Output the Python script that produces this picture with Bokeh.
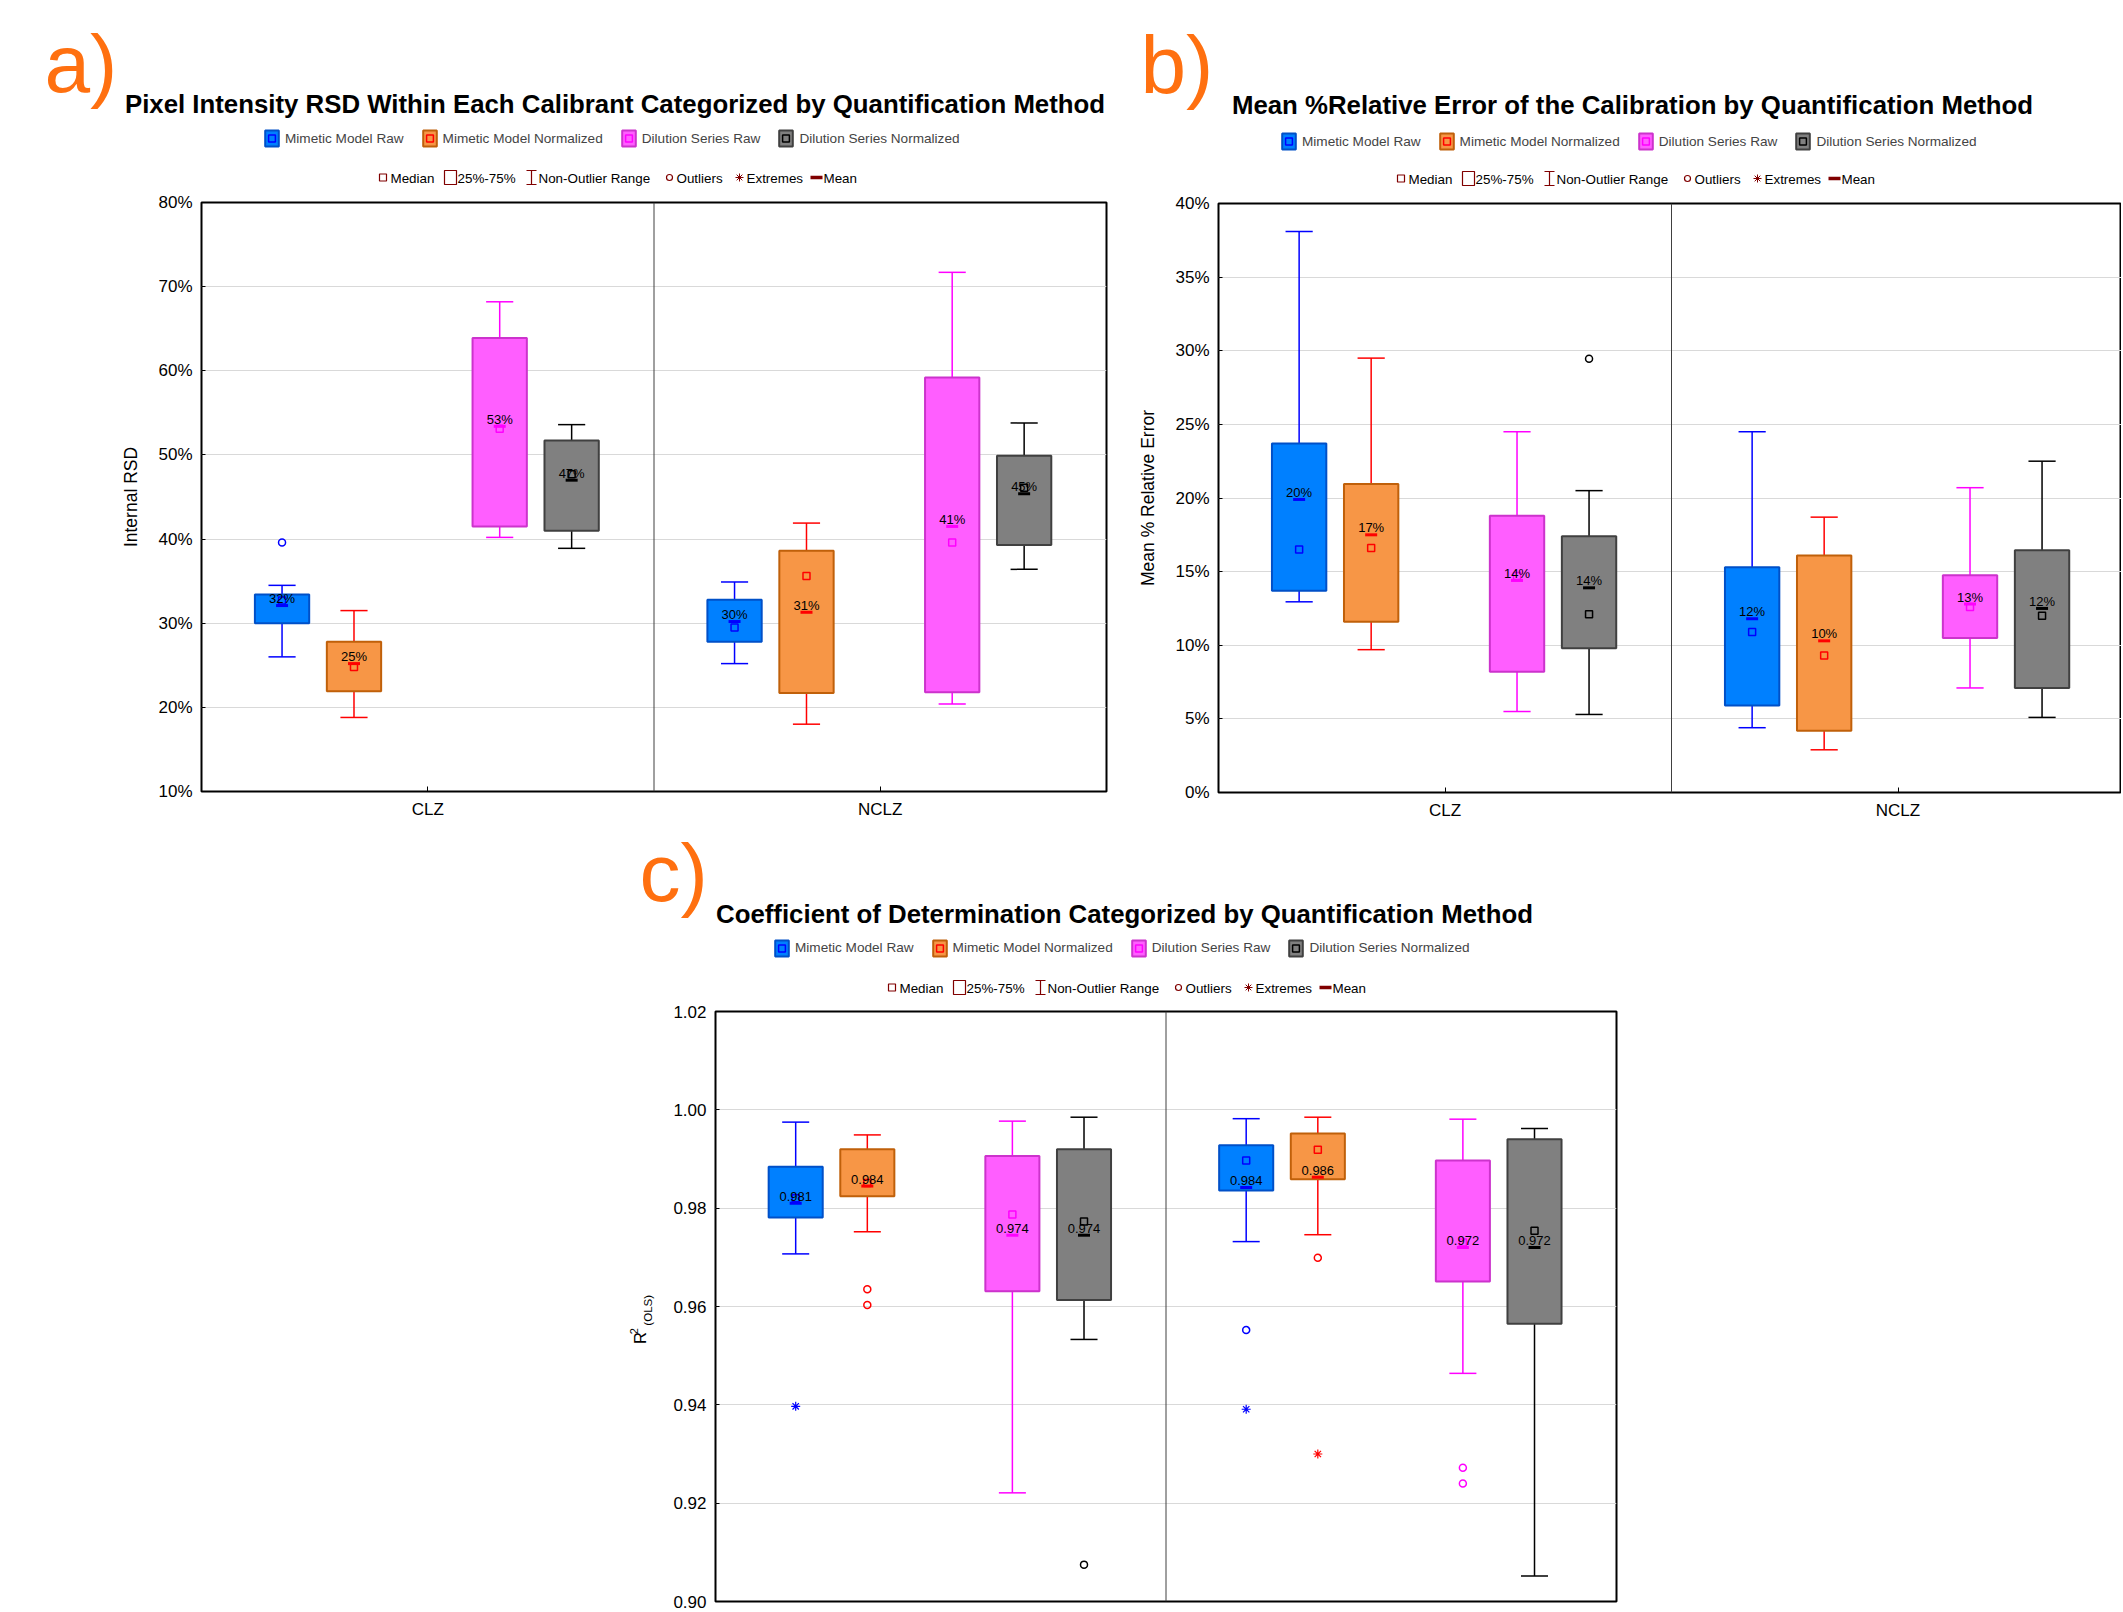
import math
from bokeh.plotting import figure
from bokeh.models import Range1d, FixedTicker, Span, Label, Legend, LegendItem, Spacer
from bokeh.layouts import row, column
from bokeh.embed import file_html
from bokeh.resources import INLINE
from bokeh.core.properties import value

# ---------------- data ----------------
categories = ["CLZ", "NCLZ"]
methods = ["Mimetic Model Raw", "Mimetic Model Normalized",
           "Dilution Series Raw", "Dilution Series Normalized"]

# each stat: [method][category]
a_lo   = [[26.0, 25.2], [18.8, 18.0], [40.2, 20.4], [38.9, 36.4]]
a_q1   = [[30.0, 27.8], [21.9, 21.7], [41.5, 21.8], [41.0, 39.3]]
a_med  = [[32.7, 29.5], [24.8, 35.6], [53.1, 39.6], [47.7, 46.1]]
a_mean = [[32.1, 30.2], [25.2, 31.3], [53.4, 41.5], [47.0, 45.4]]
a_q3   = [[33.4, 32.8], [27.8, 38.6], [63.9, 59.2], [51.7, 49.9]]
a_hi   = [[34.5, 34.9], [31.5, 41.9], [68.2, 71.7], [53.6, 53.8]]
a_mean_labels = [["32%", "30%"], ["25%", "31%"], ["53%", "41%"], ["47%", "45%"]]
a_outliers = [(0, 0, 39.6)]          # (method, category, value)
a_extremes = []
a_ticks = [10, 20, 30, 40, 50, 60, 70, 80]
a_tick_labels = ["10%", "20%", "30%", "40%", "50%", "60%", "70%", "80%"]

b_lo   = [[12.95, 4.4], [9.7, 2.9], [5.5, 7.1], [5.3, 5.1]]
b_q1   = [[13.7, 5.9], [11.6, 4.2], [8.2, 10.5], [9.8, 7.1]]
b_med  = [[16.5, 10.9], [16.6, 9.3], [14.7, 12.6], [12.1, 12.0]]
b_mean = [[19.9, 11.8], [17.5, 10.3], [14.4, 12.8], [13.9, 12.5]]
b_q3   = [[23.7, 15.3], [20.95, 16.1], [18.8, 14.75], [17.4, 16.45]]
b_hi   = [[38.1, 24.5], [29.5, 18.7], [24.5, 20.7], [20.5, 22.5]]
b_mean_labels = [["20%", "12%"], ["17%", "10%"], ["14%", "13%"], ["14%", "12%"]]
b_outliers = [(3, 0, 29.45)]
b_extremes = []
b_ticks = [0, 5, 10, 15, 20, 25, 30, 35, 40]
b_tick_labels = ["0%", "5%", "10%", "15%", "20%", "25%", "30%", "35%", "40%"]

c_lo   = [[0.9707, 0.9732], [0.9752, 0.9746], [0.9221, 0.9464], [0.9533, 0.9052]]
c_q1   = [[0.9781, 0.9836], [0.9824, 0.9859], [0.9631, 0.9651], [0.9613, 0.9565]]
c_med  = [[0.9820, 0.9897], [0.9851, 0.9919], [0.9787, 0.9730], [0.9773, 0.9754]]
c_mean = [[0.9810, 0.9842], [0.9845, 0.9863], [0.9745, 0.9720], [0.9745, 0.9720]]
c_q3   = [[0.9884, 0.9928], [0.9920, 0.9952], [0.9906, 0.9897], [0.9920, 0.9940]]
c_hi   = [[0.9975, 0.9982], [0.9949, 0.9985], [0.9977, 0.9981], [0.9985, 0.9962]]
c_mean_labels = [["0.981", "0.984"], ["0.984", "0.986"], ["0.974", "0.972"], ["0.974", "0.972"]]
c_outliers = [(1, 0, 0.9635), (1, 0, 0.9603), (3, 0, 0.9075), (0, 1, 0.9552),
              (1, 1, 0.9699), (2, 1, 0.9272), (2, 1, 0.9240)]
c_extremes = [(0, 0, 0.9397), (0, 1, 0.9391), (1, 1, 0.9300)]
c_ticks = [0.90, 0.92, 0.94, 0.96, 0.98, 1.00, 1.02]
c_tick_labels = ["0.90", "0.92", "0.94", "0.96", "0.98", "1.00", "1.02"]

a_title = "Pixel Intensity RSD Within Each Calibrant Categorized by Quantification Method"
b_title = "Mean %Relative Error of the Calibration by Quantification Method"
c_title = "Coefficient of Determination Categorized by Quantification Method"
a_ylabel = "Internal RSD"
b_ylabel = "Mean % Relative Error"
legend2_labels = ["Median", "25%-75%", "Non-Outlier Range", "Outliers", "Extremes", "Mean"]

# ---------------- styles ----------------
FONT = "Liberation Sans"
FILL = ["#0080FF", "#F79646", "#FF5EFF", "#808080"]
EDGE = ["#0050C8", "#C0600A", "#CC33CC", "#404040"]
WHISK = ["#0000FF", "#FF0000", "#FF00FF", "#000000"]
OFFS = [-0.322, -0.163, 0.159, 0.318]
BOX_W = 0.12
CAP_W = 0.06
LEG_RED = "#800000"
ORANGE = "#FF7010"
NAN = float("nan")
TITLE_SIZE = "25.8px"


def make_fig(w, h, xr, yr, ticks, tick_labels, bl, br, bt, bb, ylabel=None, xlabels=True):
    p = figure(width=w, height=h, x_range=Range1d(*xr), y_range=Range1d(*yr),
               output_backend="svg", toolbar_location=None, tools="",
               min_border_left=bl, min_border_right=br, min_border_top=bt, min_border_bottom=bb)
    p.outline_line_color = "black"
    p.outline_line_width = 2
    p.background_fill_color = "white"
    p.border_fill_color = "white"
    yt = FixedTicker(ticks=ticks)
    xt = FixedTicker(ticks=[g + 0.5 for g in range(len(categories))])
    p.xgrid.grid_line_color = None
    p.ygrid.ticker = yt
    p.ygrid.grid_line_color = "#d9d9d9"
    p.ygrid.grid_line_width = 1

    ya = p.yaxis[0]
    ya.ticker = yt
    ya.major_label_overrides = dict(zip(ticks, tick_labels))
    ya.major_tick_in = 4
    ya.major_tick_out = 0
    ya.minor_tick_line_color = None
    ya.axis_line_color = None
    ya.major_tick_line_color = "black"
    ya.major_label_text_font = FONT
    ya.major_label_text_font_size = "17px"
    ya.major_label_text_color = "black"
    ya.major_label_standoff = 9
    if ylabel:
        ya.axis_label = ylabel
        ya.axis_label_text_font = FONT
        ya.axis_label_text_font_size = "17.5px"
        ya.axis_label_text_font_style = "normal"
        ya.axis_label_text_color = "black"
        ya.axis_label_standoff = 14

    xa = p.xaxis[0]
    if xlabels:
        xa.ticker = xt
        xa.major_label_overrides = {g + 0.5: c for g, c in enumerate(categories)}
        xa.major_tick_in = 5
        xa.major_tick_out = 0
        xa.minor_tick_line_color = None
        xa.axis_line_color = None
        xa.major_label_text_font = FONT
        xa.major_label_text_color = "black"
        xa.major_label_text_font_size = "17px"
        xa.major_label_standoff = 8
    else:
        xa.visible = False

    p.add_layout(Span(location=1, dimension="height", line_color="#404040", line_width=1))
    return p


def draw_panel(p, lo, q1, med, mean, q3, hi, labels, outliers, extremes):
    for m in range(len(methods)):
        xs = [g + 0.5 + OFFS[m] for g in range(len(categories))]
        c = WHISK[m]
        p.segment(x0=xs, y0=q3[m], x1=xs, y1=hi[m], line_color=c, line_width=1.5)
        p.segment(x0=xs, y0=q1[m], x1=xs, y1=lo[m], line_color=c, line_width=1.5)
        p.segment(x0=[x - CAP_W / 2 for x in xs], y0=hi[m], x1=[x + CAP_W / 2 for x in xs], y1=hi[m],
                  line_color=c, line_width=1.5)
        p.segment(x0=[x - CAP_W / 2 for x in xs], y0=lo[m], x1=[x + CAP_W / 2 for x in xs], y1=lo[m],
                  line_color=c, line_width=1.5)
        p.vbar(x=xs, width=BOX_W, bottom=q1[m], top=q3[m], fill_color=FILL[m],
               line_color=EDGE[m], line_width=2)
        p.scatter(x=xs, y=med[m], marker="square", size=7, fill_color=None,
                  line_color=c, line_width=1.5)
        p.scatter(x=xs, y=mean[m], marker="dash", size=12, line_color=c, line_width=3)
        p.text(x=xs, y=mean[m], text=labels[m], text_align="center", text_baseline="middle",
               y_offset=-7, text_font=value(FONT), text_font_size="13px", text_color="black")
        ox = [g + 0.5 + OFFS[m] for (mm, g, v) in outliers if mm == m]
        oy = [v for (mm, g, v) in outliers if mm == m]
        if ox:
            p.scatter(x=ox, y=oy, marker="circle", size=7, fill_color=None, line_color=c, line_width=1.5)
        ex = [g + 0.5 + OFFS[m] for (mm, g, v) in extremes if mm == m]
        ey = [v for (mm, g, v) in extremes if mm == m]
        if ex:
            p.scatter(x=ex, y=ey, marker="asterisk", size=9, line_color=c, line_width=1.2)


def make_canvas(x0, x1, y0, y1):
    """Blank drawing area whose units are page pixels (y grows downward)."""
    p = figure(width=x1 - x0, height=y1 - y0, x_range=Range1d(x0, x1), y_range=Range1d(y1, y0),
               x_axis_location=None, y_axis_location=None, min_border=0,
               output_backend="svg", toolbar_location=None, tools="")
    p.outline_line_color = None
    p.background_fill_color = "white"
    p.border_fill_color = "white"
    p.grid.visible = False
    return p


def txt(cv, x, y, text, size, font=FONT, color="black", align="left",
        style="normal", angle=0.0):
    cv.add_layout(Label(x=x, y=y, text=text, text_font=font, text_font_size=size,
                        text_color=color, text_align=align, text_baseline="middle",
                        text_font_style=style, angle=angle))


TEXT_DX = [11, 78, 159, 297, 367, 444]


def header(cv, fig_left, fig_bottom, title, tx, ty, letter, lx, ly, leg_x, leg_yc, r2x, r2y):
    txt(cv, tx, ty, title, TITLE_SIZE, align="center", style="bold")
    txt(cv, lx, ly, letter, "82px", color=ORANGE)
    # legend row 1 (series): legend-only renderers (NaN, not drawn on the canvas)
    items = []
    for m in range(len(methods)):
        br = cv.vbar(x=[NAN], width=1, bottom=[NAN], top=[NAN], fill_color=FILL[m],
                     line_color=EDGE[m], line_width=2)
        mr = cv.scatter(x=[NAN], y=[NAN], marker="square", size=7, fill_color=None,
                        line_color=WHISK[m], line_width=1.5)
        items.append(LegendItem(label=methods[m], renderers=[br, mr]))
    leg = Legend(items=items, location=(leg_x - fig_left, fig_bottom - (leg_yc + 10)),
                 orientation="horizontal", glyph_width=17, glyph_height=20, label_standoff=5,
                 spacing=17, padding=0, margin=0, label_text_font=FONT,
                 label_text_font_size="13.6px", label_text_baseline="middle", label_height=20,
                 background_fill_alpha=0, border_line_alpha=0)
    cv.add_layout(leg)
    # legend row 2 (box-plot elements)
    x0, yc = r2x, r2y
    cv.rect(x=[x0 + 3.5], y=[yc], width=7, height=7, fill_color=None, line_color=LEG_RED, line_width=1.2)
    cv.rect(x=[x0 + 71], y=[yc], width=12, height=14, fill_color=None, line_color=LEG_RED, line_width=1.2)
    bx = x0 + 152
    cv.segment(x0=[bx, bx - 5, bx - 5], y0=[yc - 7, yc - 7, yc + 7],
               x1=[bx, bx + 5, bx + 5], y1=[yc + 7, yc - 7, yc + 7], line_color=LEG_RED, line_width=1.2)
    cv.scatter(x=[x0 + 290], y=[yc], marker="circle", size=6, fill_color=None,
               line_color=LEG_RED, line_width=1.2)
    cv.scatter(x=[x0 + 360], y=[yc], marker="asterisk", size=8, line_color=LEG_RED, line_width=1)
    cv.rect(x=[x0 + 437], y=[yc], width=12, height=3.5, fill_color=LEG_RED, line_color=None)
    for i, lab in enumerate(legend2_labels):
        txt(cv, x0 + TEXT_DX[i], yc + 0.5, lab, "13.4px")


# ---------------- panel a ----------------
cv_a = make_canvas(0, 1120, 0, 188)
header(cv_a, 0, 188, a_title, 614.5, 103, "a)", 44, 63, 263, 138, 379, 177)
pa = make_fig(1120, 634, (0, 2), (10, 80), a_ticks, a_tick_labels, 201, 14, 14, 31, ylabel=a_ylabel)
draw_panel(pa, a_lo, a_q1, a_med, a_mean, a_q3, a_hi, a_mean_labels, a_outliers, a_extremes)

# ---------------- panel b ----------------
cv_b = make_canvas(1120, 2121, 0, 188)
header(cv_b, 1120, 188, b_title, 1632, 104, "b)", 1140, 64, 1280, 141, 1397, 178)
pb = make_fig(1001, 634, (0, 903 / 453), (0, 40), b_ticks, b_tick_labels, 98, 0, 15, 30, ylabel=b_ylabel)
draw_panel(pb, b_lo, b_q1, b_med, b_mean, b_q3, b_hi, b_mean_labels, b_outliers, b_extremes)

# ---------------- panel c ----------------
cv_c = make_canvas(620, 1636, 822, 997)
header(cv_c, 620, 997, c_title, 1124, 913, "c)", 639, 872, 773, 947.5, 888, 987)
cv_r = make_canvas(620, 660, 997, 1611)
txt(cv_r, 639.5, 1343, "R", "16.5px", angle=math.pi / 2)
txt(cv_r, 633, 1333, "2", "11px", angle=math.pi / 2)
txt(cv_r, 646.5, 1324, "(OLS)", "11.6px", angle=math.pi / 2)
pc = make_fig(976, 614, (0, 2), (0.90, 1.02), c_ticks, c_tick_labels, 55, 20, 14, 10, xlabels=False)
draw_panel(pc, c_lo, c_q1, c_med, c_mean, c_q3, c_hi, c_mean_labels, c_outliers, c_extremes)

layout = column(row(column(row(cv_a), row(pa)), column(row(cv_b), row(pb))),
                row(Spacer(width=620, height=789), column(row(cv_c), row(cv_r, pc))))
open("out.html", "w").write(file_html(layout, INLINE))
